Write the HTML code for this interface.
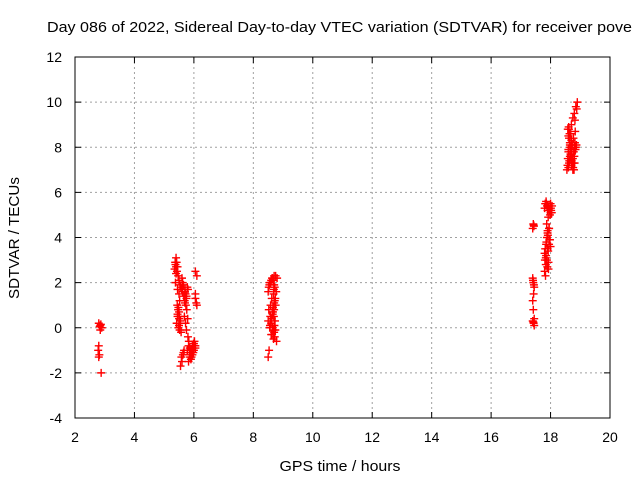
<!DOCTYPE html>
<html><head><meta charset="utf-8"><style>
body{margin:0;background:#fff;}
svg{display:block;font-family:"Liberation Sans",sans-serif;}
</style></head><body>
<svg id="chart" width="640" height="480">
<rect width="640" height="480" fill="#fff"/>
<text x="47" y="32" font-size="15" textLength="585" lengthAdjust="spacingAndGlyphs" fill="#000">Day 086 of 2022, Sidereal Day-to-day VTEC variation (SDTVAR) for receiver pove</text>
<g id="grid"></g><g id="axes"></g><g id="pts"></g>
<text x="340" y="471" font-size="15" text-anchor="middle" textLength="121" lengthAdjust="spacingAndGlyphs">GPS time / hours</text>
<text x="0" y="0" font-size="15" text-anchor="middle" textLength="122" lengthAdjust="spacingAndGlyphs" transform="translate(19,238) rotate(-90)">SDTVAR / TECUs</text>
</svg>
<script>
const xTicks=[2,4,6,8,10,12,14,16,18,20];
const yTicks=[-4,-2,0,2,4,6,8,10,12];
const hours=[2.8,2.85,2.9,2.85,2.8,2.78,2.82,2.8,2.88,2.83,2.87,
5.35,5.38,5.4,5.42,5.45,5.4,5.38,5.45,5.5,5.52,5.48,5.45,5.5,5.55,5.5,5.52,5.48,5.6,5.62,5.65,5.7,5.72,5.75,5.7,5.78,5.8,5.75,5.7,5.68,5.72,5.75,5.8,5.82,5.78,5.85,5.9,5.95,6.0,6.05,5.9,5.95,6.0,6.05,6.02,5.98,6.05,6.08,6.1,6.05,6.1,6.05,5.55,5.6,5.58,5.65,5.5,5.45,5.42,
5.37,5.4,5.43,5.47,5.5,5.53,5.56,5.59,5.62,5.66,5.69,5.73,5.76,5.79,5.83,5.86,5.88,5.92,5.96,5.99,6.03,5.44,5.47,5.51,5.54,5.57,5.63,5.67,5.82,5.87,5.93,
8.5,8.52,8.55,8.6,8.65,8.7,8.75,8.8,8.7,8.68,8.72,8.75,8.7,8.65,8.62,8.6,8.65,8.7,8.72,8.68,8.6,8.55,8.5,8.52,8.58,8.62,8.66,8.74,8.78,8.5,
8.54,8.58,8.63,8.67,8.72,8.77,8.74,8.7,8.66,8.64,8.69,8.73,8.71,8.67,8.63,8.57,8.53,8.56,8.61,8.69,
17.4,17.42,17.45,17.43,17.4,17.42,17.45,17.4,17.43,17.45,17.42,17.4,17.44,17.41,17.44,17.42,17.43,
17.8,17.82,17.85,17.88,17.9,17.92,17.95,18.0,18.02,17.98,17.95,17.9,17.88,17.85,17.82,17.8,17.85,17.9,17.95,18.0,17.92,17.88,17.84,17.8,17.83,17.9,17.95,18.0,18.05,17.98,17.93,
17.86,17.9,17.94,17.97,18.01,18.04,17.87,17.91,17.96,17.84,17.89,17.93,17.81,17.86,17.92,
18.55,18.6,18.62,18.58,18.6,18.65,18.7,18.68,18.62,18.6,18.65,18.7,18.72,18.75,18.78,18.8,18.82,18.85,18.8,18.78,18.75,18.7,18.68,18.65,18.6,18.62,18.58,18.7,18.75,18.8,18.85,18.9,18.88,18.82,
18.57,18.63,18.67,18.73,18.77,18.83,18.87,18.61,18.66,18.71,18.76,18.81,18.64,18.69,18.74,18.79,18.84];
const values=[0.2,0.1,0.0,-0.1,-0.8,-1.0,-1.2,-1.3,-2.0,0.05,0.15,
2.6,2.8,3.1,2.9,2.7,2.4,2.0,1.7,1.5,1.2,0.9,0.6,0.4,0.3,0.1,-0.1,0.0,2.2,2.0,1.9,1.7,1.5,1.4,1.6,1.8,1.7,1.3,1.1,0.5,0.2,-0.1,-0.4,-0.8,-1.0,-1.2,-1.0,-0.8,-0.7,-0.9,-1.4,-1.2,-1.0,-0.8,-0.6,-1.1,1.3,1.1,1.0,2.5,2.3,1.5,-1.7,-1.5,-1.3,-1.1,0.7,0.5,0.2,
2.9,2.7,2.5,2.3,2.1,1.9,1.8,1.7,1.6,1.4,1.2,1.0,0.8,0.4,-0.6,-0.9,-1.1,-1.3,-0.9,-0.7,-0.8,1.0,0.8,0.5,0.2,-0.2,-1.2,-1.0,-1.5,-1.3,-1.0,
1.6,1.8,2.0,2.1,2.2,2.3,2.3,2.2,1.9,1.5,1.2,1.0,0.8,0.6,0.4,0.2,0.0,-0.2,-0.4,-0.5,-0.3,0.0,0.3,0.8,1.0,1.3,0.7,-0.1,-0.6,-1.3,
1.9,2.0,2.2,2.1,1.8,1.6,1.3,1.1,0.9,0.7,0.5,0.3,0.1,-0.1,-0.3,0.5,-1.0,0.1,0.4,1.7,
2.2,2.0,1.8,1.5,1.2,0.8,0.4,0.3,0.2,0.1,4.6,4.4,4.5,2.1,1.9,0.25,4.55,
5.3,5.5,5.6,5.4,5.2,5.3,5.4,5.5,5.2,5.0,4.4,4.2,4.0,3.7,3.5,3.3,3.2,3.5,3.7,3.6,3.4,3.0,2.8,2.5,2.3,4.3,4.4,5.1,5.4,3.9,2.9,
5.5,5.4,5.3,5.2,5.3,5.1,4.6,4.1,3.9,3.1,2.7,2.6,3.0,3.8,4.9,
7.0,7.1,7.3,7.5,7.8,8.1,8.3,8.6,8.8,8.5,8.2,7.9,7.7,7.5,7.8,8.0,8.2,8.0,7.6,7.3,7.0,7.2,7.5,7.6,7.9,8.4,8.8,9.0,9.3,9.5,9.8,10.0,9.7,9.2,
7.2,7.4,7.7,8.1,8.4,8.7,8.1,8.9,8.0,7.4,7.1,7.3,8.6,7.8,7.3,7.0,7.9];
const X=h=>75+(h-2)*(535/18);
const Y=v=>418-(v+4)*(361/16);
const NS="http://www.w3.org/2000/svg";
const grid=document.getElementById('grid'),axes=document.getElementById('axes'),pts=document.getElementById('pts');
function mk(tag,attrs,parent){const e=document.createElementNS(NS,tag);for(const k in attrs)e.setAttribute(k,attrs[k]);parent.appendChild(e);return e;}
xTicks.forEach(t=>{const x=X(t);
 if(t>2&&t<20){const l=mk('line',{x1:x,y1:57,x2:x,y2:418,stroke:'#a0a0a0','stroke-dasharray':'2,3'},grid);
 
 }
 mk('line',{x1:x,y1:418,x2:x,y2:412,stroke:'#000'},axes);mk('line',{x1:x,y1:57,x2:x,y2:63,stroke:'#000'},axes);
 const tx=mk('text',{x:x,y:442,'font-size':14,'text-anchor':'middle'},axes);tx.textContent=t;
 
 });
yTicks.forEach(t=>{const y=Y(t);
 if(t>-4&&t<12){const l=mk('line',{x1:75,y1:y,x2:610,y2:y,stroke:'#a0a0a0','stroke-dasharray':'2,3'},grid);
 
 }
 mk('line',{x1:75,y1:y,x2:81,y2:y,stroke:'#000'},axes);mk('line',{x1:610,y1:y,x2:604,y2:y,stroke:'#000'},axes);
 const tx=mk('text',{x:62,y:y+5,'font-size':14,'text-anchor':'end'},axes);tx.textContent=t;
 
 });
const fr=mk('rect',{x:75,y:57,width:535,height:361,fill:'none',stroke:'#000'},axes);


hours.forEach((h,i)=>{const x=X(h),y=Y(values[i]);
 const p=mk('path',{d:`M${x-4},${y}H${x+4}M${x},${y-4}V${y+4}`,stroke:'#f00','stroke-width':1.4},pts);
 
 });
</script>
</body></html>
